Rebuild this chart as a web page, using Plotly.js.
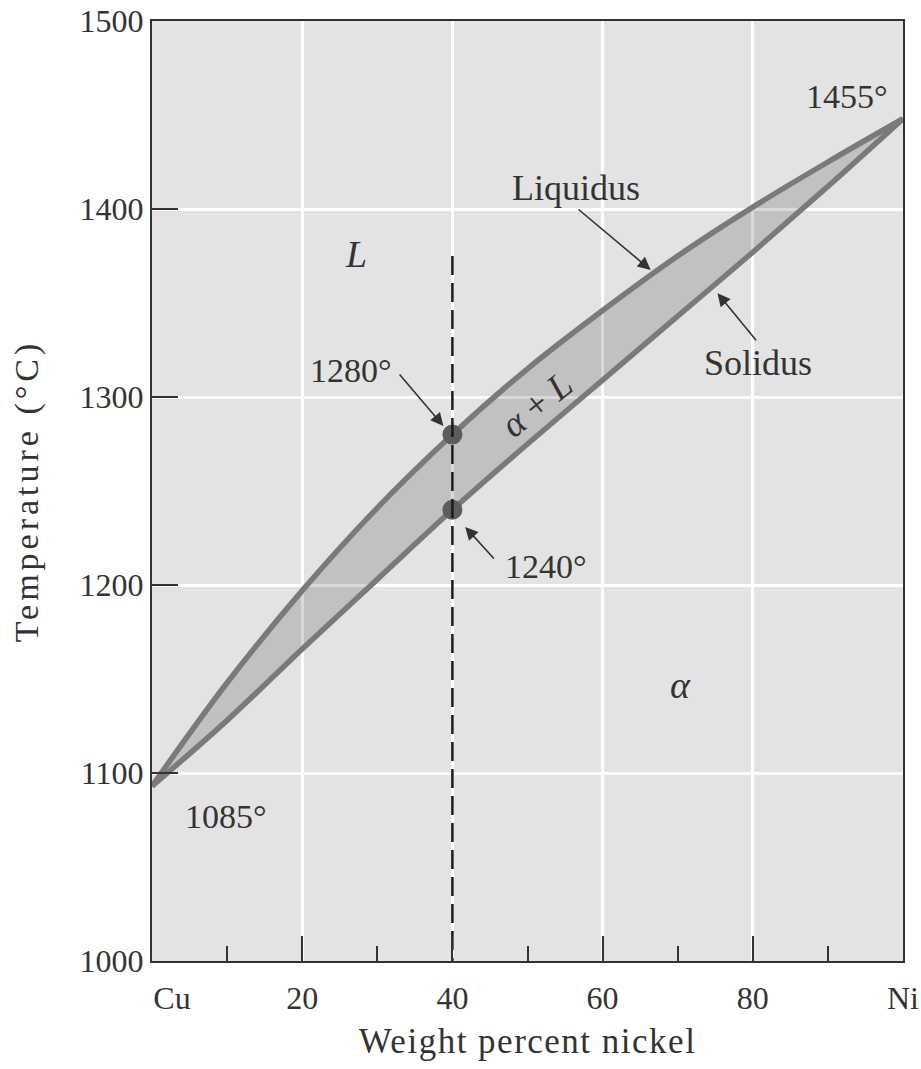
<!DOCTYPE html>
<html>
<head>
<meta charset="utf-8">
<script src="https://cdn.plot.ly/plotly-3.0.1.min.js"></script>
<style>
html,body{margin:0;padding:0;background:#fff;}
#chart{width:921px;height:1069px;}
.xtitle{letter-spacing:1.5px;}
.ytitle{letter-spacing:4px;}
</style>
</head>
<body>
<div id="chart"></div>
<script>
// Weight percent nickel
const composition = [0, 10, 20, 30, 40, 50, 60, 70, 80, 90, 100];
// Liquidus and solidus temperatures (°C)
const liquidus = [1093, 1148, 1197, 1241, 1280, 1315, 1346, 1375, 1401, 1425, 1448];
const solidus  = [1093, 1128, 1166, 1203, 1240, 1275, 1309, 1343, 1377, 1412, 1448];
// Alloy of 40 wt% Ni
const alloyX = [40, 40];
const alloyT = [1375, 1000];
const pointX = [40, 40];
const pointT = [1280, 1240];
// Tick labels
const xTickVals = [0, 20, 40, 60, 80, 100];
const xTickText = ['\u00a0\u00a0\u00a0\u00a0\u00a0Cu', '20', '40', '60', '80', 'Ni'];
const xMinorVals = [10, 30, 50, 70, 90];
const yTickVals = [1000, 1100, 1200, 1300, 1400, 1500];

const serif = 'Liberation Serif, Times New Roman, serif';
const ink = '#333333';
const curve = '#7a7a7a';
const sm = 1.0;

const traces = [
  {x: composition, y: solidus, mode: 'lines', line: {color: curve, width: 0, shape: 'spline', smoothing: sm},
   hoverinfo: 'skip', showlegend: false},
  {x: composition, y: liquidus, mode: 'lines', line: {color: curve, width: 0, shape: 'spline', smoothing: sm},
   fill: 'tonexty', fillcolor: 'rgba(0,0,0,0.15)', hoverinfo: 'skip', showlegend: false},
  {x: composition, y: liquidus, mode: 'lines', name: 'Liquidus',
   line: {color: curve, width: 5.5, shape: 'spline', smoothing: sm}, showlegend: false},
  {x: composition, y: solidus, mode: 'lines', name: 'Solidus',
   line: {color: curve, width: 5.5, shape: 'spline', smoothing: sm}, showlegend: false},
  {x: pointX, y: pointT, mode: 'markers', marker: {size: 20, color: '#5c5c5c'}, showlegend: false},
  {x: alloyX, y: alloyT, mode: 'lines', line: {color: '#1a1a1a', width: 2.5, dash: '19px,8px'}, showlegend: false}
];

function label(text, x, y, size, extra) {
  return Object.assign({text: text, x: x, y: y, xref: 'x', yref: 'y', showarrow: false,
    font: {family: serif, size: size, color: ink}}, extra || {});
}
function arrow(hx, hy, tx, ty) {
  return {text: '', x: hx, y: hy, ax: tx, ay: ty, xref: 'x', yref: 'y', axref: 'x', ayref: 'y',
    showarrow: true, arrowhead: 2, arrowsize: 1.6, arrowwidth: 1.6, arrowcolor: '#333'};
}

const annotations = [
  label('<i>L</i>', 27.1, 1376, 38),
  label('<i>α</i>', 70.4, 1147, 38),
  label('<i>α</i> + <i>L</i>', 51.2, 1296, 37, {textangle: -39}),
  label('1280°', 26.5, 1314, 34),
  label('1240°', 52.5, 1210, 34),
  label('1455°', 92.6, 1460, 34),
  label('1085°', 9.8, 1077, 34),
  label('Liquidus', 56.5, 1411, 36),
  label('Solidus', 80.7, 1318, 36),
  arrow(38.8, 1284.6, 32.8, 1312.8),
  arrow(41.7, 1230.9, 45.7, 1213.3),
  arrow(66.4, 1367.6, 56.6, 1400.4),
  arrow(75.3, 1355.2, 80.6, 1329.4)
];

const layout = {
  width: 921, height: 1069,
  margin: {l: 152, r: 18, t: 21, b: 108},
  paper_bgcolor: '#ffffff',
  plot_bgcolor: '#e3e3e3',
  showlegend: false,
  font: {family: serif, color: ink},
  xaxis: {
    range: [0, 100], tickmode: 'array', tickvals: xTickVals, ticktext: xTickText,
    ticks: 'inside', ticklen: 25, tickwidth: 2, tickcolor: '#333',
    minor: {tickmode: 'array', tickvals: xMinorVals, ticks: 'inside', ticklen: 15, tickwidth: 2, tickcolor: '#333', showgrid: false},
    showgrid: true, gridcolor: '#ffffff', gridwidth: 3,
    showline: true, mirror: true, linecolor: '#333', linewidth: 2,
    zeroline: false, tickfont: {family: serif, size: 32, color: ink},
    ticklabelstandoff: 8,
    title: {text: 'Weight percent nickel', font: {family: serif, size: 35, color: ink}, standoff: 13}
  },
  yaxis: {
    range: [1000, 1500], tickmode: 'array', tickvals: yTickVals,
    ticks: 'inside', ticklen: 26, tickwidth: 2, tickcolor: '#333',
    showgrid: true, gridcolor: '#ffffff', gridwidth: 3,
    showline: true, mirror: true, linecolor: '#333', linewidth: 2,
    zeroline: false, tickfont: {family: serif, size: 32, color: ink},
    title: {text: 'Temperature (°C)', font: {family: serif, size: 34, color: ink}, standoff: 31}
  },
  annotations: annotations
};

Plotly.newPlot('chart', traces, layout, {staticPlot: true});
</script>
</body>
</html>
